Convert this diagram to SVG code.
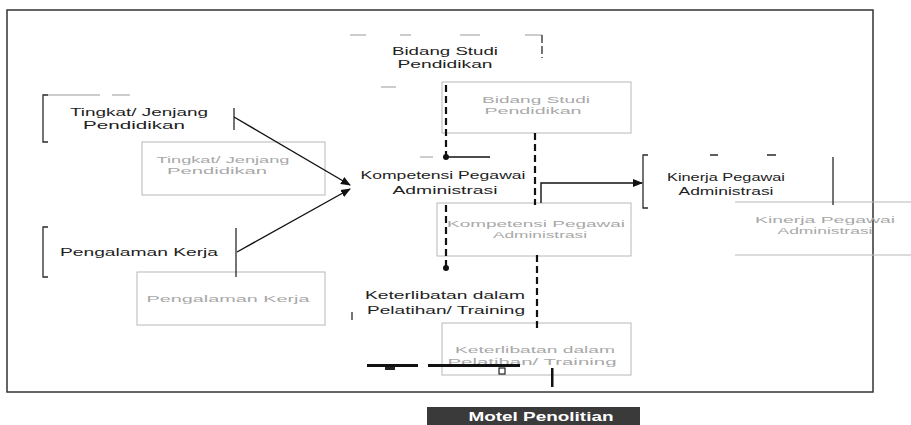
<svg xmlns="http://www.w3.org/2000/svg" width="911" height="425" viewBox="0 0 911 425">
<defs>
<marker id="ah" viewBox="0 0 10 10" refX="9" refY="5" markerWidth="10" markerHeight="10" markerUnits="userSpaceOnUse" orient="auto">
<path d="M0,1 L10,5 L0,9 z" fill="#111"/>
</marker>
<style>
.t{font-family:"Liberation Sans",Arial,sans-serif;font-size:11.5px;fill:#1e1e1e;text-anchor:middle}
.g{font-family:"Liberation Sans",Arial,sans-serif;font-size:9.5px;fill:#a8a8a8;text-anchor:middle}
.gb{fill:none;stroke:#b8b8b8;stroke-width:1}
.bl{fill:none;stroke:#2a2a2a;stroke-width:1.3}
.lt{fill:none;stroke:#9a9a9a;stroke-width:1}
.dl{fill:none;stroke:#111;stroke-width:2.2;stroke-dasharray:7 4}
.cn{fill:none;stroke:#111;stroke-width:1.4}
</style>
</defs>
<rect width="911" height="425" fill="#fff"/>
<g id="frame">
<rect x="7" y="10" width="866" height="382" fill="none" stroke="#333" stroke-width="1.5"/>
</g>
<g id="ghosts">
<rect class="gb" x="142" y="142" width="183" height="53"/>
<text class="g" x="223" y="163" textLength="133" lengthAdjust="spacingAndGlyphs">Tingkat/ Jenjang</text>
<text class="g" x="217" y="174" textLength="100" lengthAdjust="spacingAndGlyphs">Pendidikan</text>
<rect class="gb" x="137" y="272" width="188" height="53"/>
<text class="g" x="228" y="302" textLength="163" lengthAdjust="spacingAndGlyphs">Pengalaman Kerja</text>
<rect class="gb" x="442" y="82" width="189" height="51"/>
<text class="g" x="536" y="103" textLength="108" lengthAdjust="spacingAndGlyphs">Bidang Studi</text>
<text class="g" x="533" y="114" textLength="97" lengthAdjust="spacingAndGlyphs">Pendidikan</text>
<rect class="gb" x="437" y="203" width="194" height="53"/>
<text class="g" x="536" y="227" textLength="178" lengthAdjust="spacingAndGlyphs">Kompetensi Pegawai</text>
<text class="g" x="540" y="238" textLength="94" lengthAdjust="spacingAndGlyphs">Administrasi</text>
<rect class="gb" x="442" y="323" width="189" height="52"/>
<text class="g" x="535" y="353" textLength="160" lengthAdjust="spacingAndGlyphs">Keterlibatan dalam</text>
<text class="g" x="532" y="365" textLength="169" lengthAdjust="spacingAndGlyphs">Pelatihan/ Training</text>
<path class="gb" d="M735,202 H911 M735,255 H911"/>
<text class="g" x="825" y="223" textLength="140" lengthAdjust="spacingAndGlyphs">Kinerja Pegawai</text>
<text class="g" x="825" y="234" textLength="95" lengthAdjust="spacingAndGlyphs">Administrasi</text>
</g>
<g id="node-tingkat">
<path class="bl" d="M48,95 H43 V142 H48"/>
<path class="lt" d="M48,95 H100 M112,95 H130"/>
<path class="bl" d="M234,108 V130"/>
<text class="t" x="139" y="116" textLength="138" lengthAdjust="spacingAndGlyphs">Tingkat/ Jenjang</text>
<text class="t" x="134" y="129" textLength="102" lengthAdjust="spacingAndGlyphs">Pendidikan</text>
</g>
<g id="node-pengalaman">
<path class="bl" d="M48,227 H43 V277 H48"/>
<path class="bl" d="M236,228 V277"/>
<text class="t" x="139" y="256" textLength="158" lengthAdjust="spacingAndGlyphs">Pengalaman Kerja</text>
</g>
<g id="node-bidang">
<path class="lt" d="M350,35 H366 M400,35 H411 M460,35 H480 M525,35 H542"/>
<path class="bl" d="M542,35 V58" stroke-dasharray="8 3"/>
<path class="lt" d="M381,87 H396"/>
<text class="t" x="445" y="55" textLength="106" lengthAdjust="spacingAndGlyphs">Bidang Studi</text>
<text class="t" x="445" y="68" textLength="95" lengthAdjust="spacingAndGlyphs">Pendidikan</text>
</g>
<g id="node-kompetensi">
<text class="t" x="443" y="179" textLength="165" lengthAdjust="spacingAndGlyphs">Kompetensi Pegawai</text>
<text class="t" x="445" y="194" textLength="105" lengthAdjust="spacingAndGlyphs">Administrasi</text>
</g>
<g id="node-keterlibatan">
<path class="bl" d="M352,312 V320"/>
<text class="t" x="445" y="299" textLength="160" lengthAdjust="spacingAndGlyphs">Keterlibatan dalam</text>
<text class="t" x="446" y="314" textLength="158" lengthAdjust="spacingAndGlyphs">Pelatihan/ Training</text>
</g>
<g id="node-kinerja">
<path class="bl" d="M648,155 H643 V208 H648"/>
<path class="bl" d="M710,155 H718 M767,155 H776"/>
<path class="bl" d="M833,157 V205"/>
<text class="t" x="726" y="181" textLength="118" lengthAdjust="spacingAndGlyphs">Kinerja Pegawai</text>
<text class="t" x="726" y="195" textLength="95" lengthAdjust="spacingAndGlyphs">Administrasi</text>
</g>
<g id="connectors">
<line class="cn" x1="234" y1="117" x2="350" y2="185" marker-end="url(#ah)"/>
<line class="cn" x1="237" y1="252" x2="350" y2="189" marker-end="url(#ah)"/>
<path class="cn" d="M541,203 V183 H642" marker-end="url(#ah)"/>
<path class="dl" d="M446,85 V157"/>
<circle cx="446" cy="157" r="3" fill="#111"/>
<path class="cn" d="M446,157 H490" stroke-width="1"/>
<path class="lt" d="M420,157 H433"/>
<path class="dl" d="M446,205 V268"/>
<circle cx="446" cy="268" r="3" fill="#111"/>
<path class="dl" d="M535,133 V205"/>
<path class="dl" d="M537,255 V328"/>
</g>
<g id="marks">
<rect x="367" y="364" width="51" height="3" fill="#111"/>
<rect x="385" y="367" width="10" height="3" fill="#222"/>
<rect x="428" y="364" width="92" height="3" fill="#111"/>
<rect x="499" y="368" width="6" height="6" fill="none" stroke="#222" stroke-width="1.2"/>
<rect x="551" y="368" width="2.5" height="19" fill="#111"/>
</g>
<g id="title">
<rect x="427" y="407" width="213" height="18" fill="#3a3a3a"/>
<text x="541" y="421" font-family="Liberation Sans,Arial,sans-serif" font-size="12" font-weight="bold" fill="#fff" text-anchor="middle" textLength="145" lengthAdjust="spacingAndGlyphs">Motel Penolitian</text>
</g>
</svg>
